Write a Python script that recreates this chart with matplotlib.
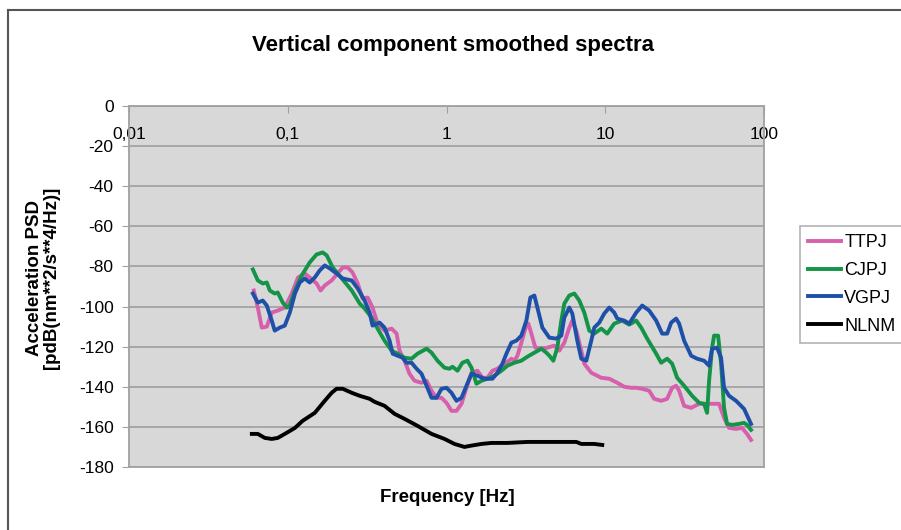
import matplotlib
matplotlib.use("Agg")
import matplotlib.pyplot as plt
from matplotlib.lines import Line2D
from matplotlib.ticker import FixedLocator, FixedFormatter, NullLocator

plt.rcParams['font.family'] = ['Liberation Sans', 'DejaVu Sans']
plt.rcParams['axes.unicode_minus'] = False

# ---- data ----
ttpj_f = [0.0611, 0.0648, 0.0686, 0.0738, 0.0793, 0.0865, 0.0958, 0.106, 0.116, 0.128, 0.1375, 0.152, 0.161, 0.171,
          0.189, 0.206, 0.222, 0.2385, 0.256, 0.276, 0.296, 0.319, 0.342, 0.368, 0.407, 0.451, 0.485, 0.506, 0.544,
          0.585, 0.629, 0.696, 0.749, 0.805, 0.865, 0.930, 1.000, 1.075, 1.156, 1.243, 1.336, 1.437, 1.567, 1.684,
          1.811, 1.947, 2.093, 2.218, 2.384, 2.564, 2.678, 2.797, 2.962, 3.139, 3.279, 3.424, 3.629, 3.958, 4.318,
          4.778, 5.136, 5.522, 5.937, 6.202, 6.571, 7.066, 7.378, 8.165, 9.437, 10.60, 11.90, 13.17, 14.57, 15.67,
          17.09, 18.91, 20.33, 22.50, 24.54, 26.39, 27.96, 29.20, 31.39, 34.75, 39.01, 43.18, 48.48, 52.12, 56.02,
          60.25, 66.67, 72.71, 78.17, 82.83]
ttpj_v = [-92, -100.5, -110.5, -110, -103, -102, -100.5, -93.5, -85.5, -83.5, -85.5, -88.5, -92, -89.5,
          -87, -83.5, -80.5, -80.5, -83, -88.5, -96, -95.5, -100.5, -108.5, -112, -111, -113.5, -122, -127,
          -133.5, -137, -138, -137, -142, -145.5, -145.5, -148, -152, -152, -148.5, -140.5, -133, -132, -135.5,
          -135.5, -132, -131, -129.5, -128, -126, -127, -124.5, -118, -111, -108.5, -113.5, -120.5, -121, -120.5,
          -119.5, -122, -118, -110.5, -107, -112, -122, -128.5, -133, -135.5, -136, -138, -140, -140.5, -140.5,
          -141, -142, -146, -147, -146, -140.5, -139.5, -142, -149.5, -150.5, -148.5, -148.5, -148.5, -148.5, -155.5,
          -160.5, -161, -160.5, -163.5, -166.5]

cjpj_f = [0.0603, 0.0648, 0.0696, 0.0738, 0.0771, 0.0828, 0.0865, 0.0930, 0.0986, 0.103, 0.111, 0.1225, 0.1375,
          0.152, 0.166, 0.176, 0.192, 0.219, 0.253, 0.284, 0.305, 0.3375, 0.368, 0.407, 0.451, 0.492, 0.544, 0.602,
          0.657, 0.749, 0.805, 0.878, 0.9715, 1.044, 1.091, 1.173, 1.260, 1.356, 1.437, 1.544, 1.660, 1.811, 2.004,
          2.218, 2.419, 2.678, 2.962, 3.232, 3.577, 3.958, 4.256, 4.445, 4.710, 4.990, 5.287, 5.522, 5.937, 6.384,
          6.864, 7.378, 7.932, 8.527, 9.437, 10.29, 11.39, 12.79, 14.16, 15.67, 16.84, 18.37, 20.93, 22.50, 24.54,
          26.39, 28.37, 31.39, 35.25, 39.01, 41.94, 43.80, 45.10, 47.10, 48.48, 51.38, 53.66, 56.02, 58.52, 62.91,
          69.63, 74.86, 78.17, 82.83]
cjpj_v = [-81.5, -87, -88.5, -88, -92, -93.5, -93, -98, -100.5, -99.5, -92, -84.5, -78,
          -74, -73, -74.5, -80.5, -86, -92, -98.5, -101, -105.5, -111, -117, -122, -123.5, -125.5, -126,
          -123.5, -121, -123, -127, -130.5, -131, -130, -132, -128, -127, -130.5, -138.5, -137, -136, -134.5,
          -132, -129.5, -128, -127, -125, -123, -121, -123, -124.5, -127, -120.5, -107, -98.5, -94.5, -93.5,
          -97, -103, -112, -113.5, -111, -113.5, -108.5, -107, -109, -107, -110.5, -116, -123.5, -128, -126,
          -128.5, -135.5, -139.5, -144.5, -148, -148.5, -153, -137, -120.5, -114.5, -114.5, -128.5, -150.5, -158.5, -159,
          -158.5, -158, -159, -161.5]

vgpj_f = [0.0603, 0.0648, 0.0696, 0.0738, 0.0793, 0.0828, 0.0891, 0.0958, 0.103, 0.111, 0.119, 0.128, 0.1375,
          0.148, 0.159, 0.171, 0.184, 0.203, 0.222, 0.253, 0.276, 0.305, 0.328, 0.342, 0.379, 0.407, 0.438, 0.458,
          0.492, 0.529, 0.560, 0.602, 0.648, 0.696, 0.749, 0.805, 0.865, 0.930, 1.000, 1.075, 1.156, 1.243, 1.336,
          1.437, 1.567, 1.734, 1.947, 2.093, 2.250, 2.384, 2.564, 2.756, 2.962, 3.185, 3.376, 3.577, 3.736, 4.016,
          4.445, 4.918, 5.287, 5.522, 5.937, 6.202, 6.667, 7.066, 7.595, 8.165, 8.527, 9.169, 9.856, 10.60, 11.39,
          11.90, 13.17, 14.16, 15.67, 17.09, 18.91, 20.93, 22.83, 24.54, 26.01, 27.96, 29.20, 31.39, 34.75, 37.89,
          41.94, 45.10, 47.10, 50.63, 53.66, 56.02, 60.25, 66.67, 74.86, 82.83]
vgpj_v = [-93.5, -98, -97, -99.5, -107, -112, -110.5, -109.5, -103, -93.5, -88, -86, -88,
          -85.5, -82, -79.5, -81, -83.5, -86, -87, -91, -97, -103, -109.5, -108, -110.5, -117, -123.5,
          -124.5, -125.5, -128, -128, -131, -133.5, -139.5, -145.5, -145.5, -141, -140.5, -143, -147, -145.5, -139.5,
          -133.5, -134.5, -136, -136, -133, -128.5, -123.5, -118, -117, -114.5, -107, -95.5, -94.5, -100.5, -110.5,
          -115.5, -116, -114.5, -105.5, -100.5, -103.5, -117, -126, -127, -117, -110.5, -108, -103.5, -100.5, -103,
          -106, -107, -108.5, -103, -99.5, -102, -107, -113.5, -113.5, -108, -106, -108.5, -117, -124.5, -126,
          -127, -129.5, -121, -120.5, -125.5, -140.5, -144.5, -147, -151, -158.5]

nlnm_f = [0.0594, 0.0648, 0.0717, 0.0793, 0.0865, 0.0958, 0.111, 0.124, 0.148, 0.171, 0.189, 0.203, 0.222, 0.253,
          0.284, 0.328, 0.3525, 0.407, 0.471, 0.544, 0.657, 0.805, 0.9715, 1.123, 1.298, 1.396, 1.660, 1.919, 2.419,
          3.232, 5.287, 6.571, 7.066, 8.527, 9.575]
nlnm_v = [-163.5, -163.5, -165.5, -166, -165.5, -163.5, -160.5, -157, -153, -147, -143, -141, -141, -143,
          -144.5, -146, -147.5, -149.5, -153.5, -156, -159.5, -163.5, -166, -168.5, -170, -169.5, -168.5, -168, -168,
          -167.5, -167.5, -167.5, -168.5, -168.5, -169]

series_names = ["TTPJ", "CJPJ", "VGPJ", "NLNM"]
series_colors = ["#D660AC", "#149447", "#1E50A8", "#000000"]

x_ticks = [0.01, 0.1, 1, 10, 100]
x_ticklabels = ["0,01", "0,1", "1", "10", "100"]
y_ticks = list(range(-180, 1, 20))

# ---- figure ----
W, H = 901, 530
fig = plt.figure(figsize=(W / 100, H / 100), dpi=100)
fig.patch.set_facecolor("white")

# outer chart frame
fig.add_artist(Line2D([8 / W, 8 / W], [0, 1 - 10 / H], color="#555555", lw=1.5))
fig.add_artist(Line2D([8 / W, 1], [1 - 10 / H, 1 - 10 / H], color="#555555", lw=1.5))

left, right, top, bottom = 129, 764, 106, 467
ax = fig.add_axes([left / W, 1 - bottom / H, (right - left) / W, (bottom - top) / H])
ax.set_facecolor("#D8D8D8")
ax.set_xscale("log")
ax.set_xlim(0.01, 100)
ax.set_ylim(-180, 0)

ax.set_yticks(y_ticks)
ax.yaxis.grid(True, color="#A3A3A3", lw=1.3)
ax.set_axisbelow(True)
ax.xaxis.set_major_locator(FixedLocator(x_ticks))
ax.xaxis.set_major_formatter(FixedFormatter(x_ticklabels))
ax.xaxis.set_minor_locator(NullLocator())

for s in ["left", "top", "right", "bottom"]:
    ax.spines[s].set_color("#A0A0A0")
    ax.spines[s].set_linewidth(1.3)

ax.tick_params(axis="y", direction="out", length=5, color="#A0A0A0", labelsize=12.5, pad=6)
ax.tick_params(axis="x", which="major", top=True, bottom=False, labeltop=True, labelbottom=False,
               direction="in", length=5, color="#A0A0A0", labelsize=12.5, pad=-15)
for t in ax.get_xticklabels():
    t.set_va("top")

for fx, vy, name, col in zip([ttpj_f, cjpj_f, vgpj_f, nlnm_f], [ttpj_v, cjpj_v, vgpj_v, nlnm_v],
                             series_names, series_colors):
    ax.plot(fx, vy, color=col, lw=2.8, label=name, solid_joinstyle="round")

fig.text(453 / W, 1 - 45 / H, "Vertical component smoothed spectra", ha="center", va="center",
         fontsize=16, fontweight="bold")
fig.text(447 / W, 1 - 497 / H, "Frequency [Hz]", ha="center", va="center", fontsize=13.5, fontweight="bold")
fig.text(43 / W, 1 - 278 / H, "Acceleration PSD\n[pdB(nm**2/s**4/Hz)]", ha="center", va="center",
         rotation=90, fontsize=13.5, fontweight="bold", linespacing=1.0)

leg = fig.legend(loc="upper left", bbox_to_anchor=(800 / W, 1 - 226 / H), frameon=True, fancybox=False,
                 edgecolor="#A0A0A0", fontsize=13, handlelength=1.8, handletextpad=0.2,
                 borderpad=0.45, labelspacing=0.6, borderaxespad=0)
leg.get_frame().set_linewidth(1.2)
for l in leg.get_lines():
    l.set_linewidth(2.8)

fig.savefig("out.png", dpi=100)
